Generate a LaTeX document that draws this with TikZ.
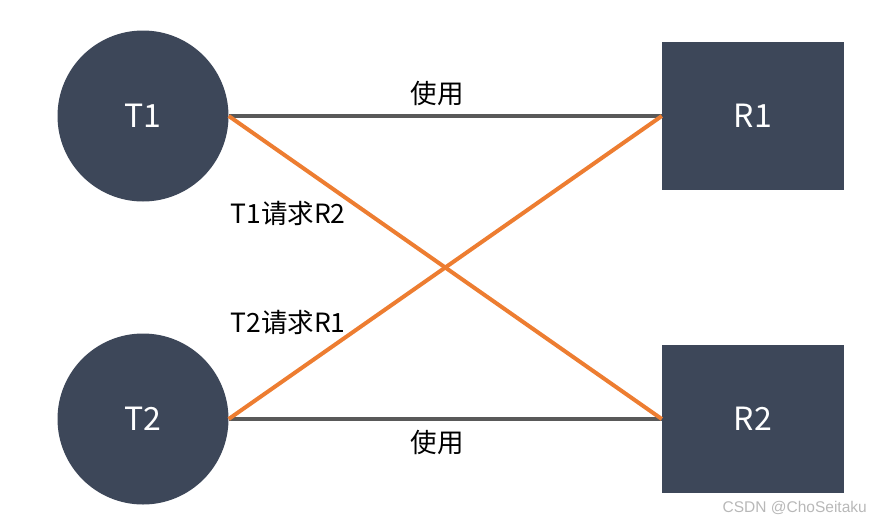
\documentclass[tikz,border=0pt]{standalone}
\usepackage{fontspec}
\setmainfont{Noto Sans CJK SC}
\newfontfamily\markfont{Liberation Sans}
\usepackage{tikz}
\definecolor{nodeblue}{HTML}{3D4759}
\definecolor{lineorange}{HTML}{ED7D31}
\definecolor{linegray}{HTML}{595959}

\begin{document}
\begin{tikzpicture}[
      x=1pt,
      y=-1pt,
      inner sep=0pt,
      thread/.style={circle,fill=nodeblue,minimum size=171pt,text=white,font=\fontsize{32}{32}\selectfont},
      res/.style={rectangle,fill=nodeblue,minimum width=182pt,minimum height=148pt,text=white,font=\fontsize{32}{32}\selectfont},
      hold/.style={draw=linegray,line width=4pt},
      want/.style={draw=lineorange,line width=4pt},
      lbl/.style={font=\fontsize{26.5}{26.5}\selectfont,text=black}
    ]
    \useasboundingbox (0,0) rectangle (874,525);
    \node (t1) [thread] at (143,116) {T1};
    \node (t2) [thread] at (143,419) {T2};
    \node (r1) [res] at (753,116) {R1};
    \node (r2) [res] at (753,419) {R2};
    \draw [hold] (t1.east) -- (r1.west);
    \draw [hold] (t2.east) -- (r2.west);
    \draw [want] (t1.east) -- (r2.west);
    \draw [want] (t2.east) -- (r1.west);
    \node (use1) [lbl] at (437,93) {使用};
    \node (use2) [lbl] at (437,442) {使用};
    \node (req1) [lbl] at (288,213) {T1请求R2};
    \node (req2) [lbl] at (288,322) {T2请求R1};
    \node (mark) [anchor=east,text=black!28,font=\markfont\fontsize{15.5}{15.5}\selectfont] at (867,508) {CSDN @ChoSeitaku};
  \end{tikzpicture}
\end{document}
